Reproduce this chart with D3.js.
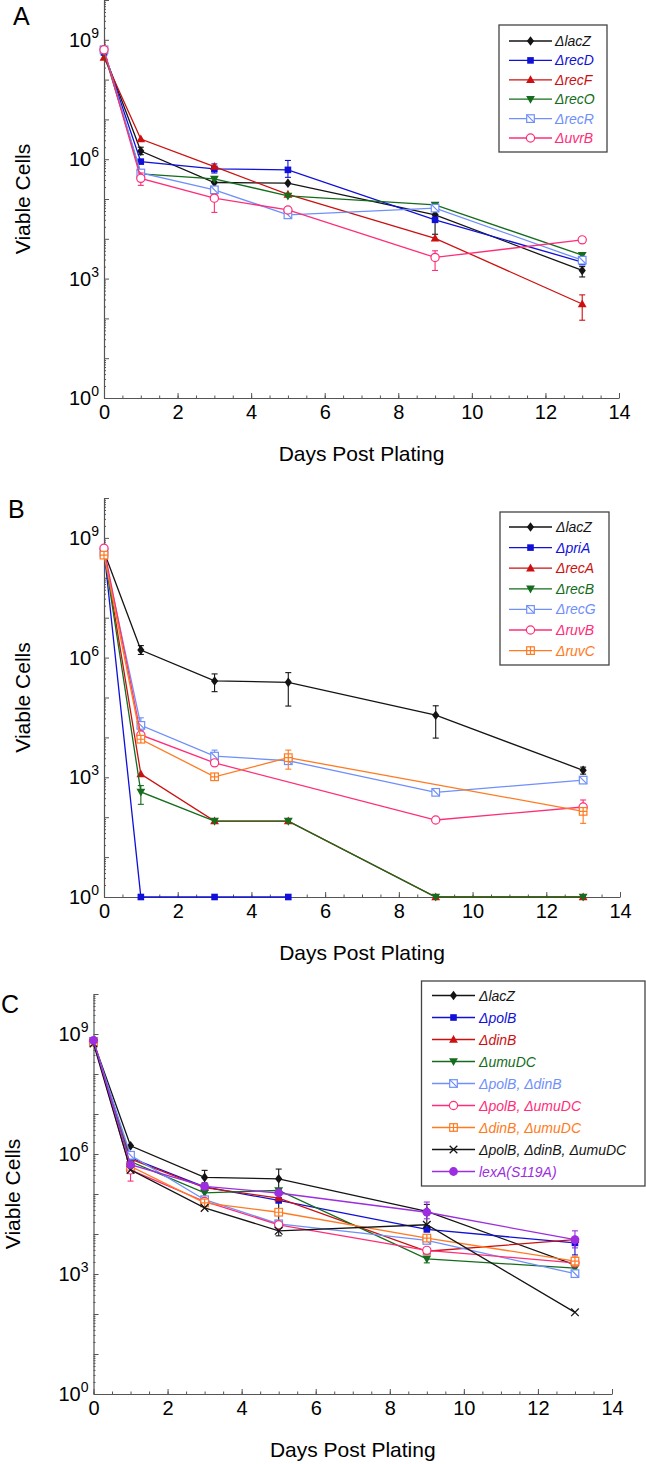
<!DOCTYPE html>
<html><head><meta charset="utf-8">
<script src="https://cdn.jsdelivr.net/npm/d3@7"></script>
<style>
body{margin:0;background:#fff}
svg{display:block}
text{font-family:"Liberation Sans",Arial,Helvetica,sans-serif}
</style>
</head><body>
<svg id="chart" width="646" height="1464"></svg>
<script>
// ---------------- DATA ----------------
const days = [0, 1, 3, 5, 9, 13];
const xTickValues = [0, 2, 4, 6, 8, 10, 12, 14];
const yLabelExponents = [0, 3, 6, 9];

// Panel A
const strainsA = ["ΔlacZ", "ΔrecD", "ΔrecF", "ΔrecO", "ΔrecR", "ΔuvrB"];
const viableA = [
  [4.5e8, 1.6e6, 2.6e5, 2.5e5, 4.0e4, 1.6e3],
  [4.8e8, 8.7e5, 5.7e5, 5.4e5, 3.0e4, 2.6e3],
  [3.6e8, 3.2e6, 6.5e5, 1.3e5, 1.03e4, 2.3e2],
  [4.8e8, 4.3e5, 3.2e5, 1.2e5, 7.1e4, 3.9e3],
  [5.6e8, 4.5e5, 1.7e5, 4.0e4, 5.9e4, 2.9e3],
  [5.6e8, 3.3e5, 1.05e5, 5.3e4, 3.4e3, 9.4e3]
];
const lowA = [
  [null, 1.3e6, null, null, 1.3e4, 1.1e3],
  [null, null, 4.5e5, 3.5e5, null, null],
  [null, null, null, null, null, 9.0e1],
  [null, null, null, null, null, null],
  [null, null, null, null, null, null],
  [null, 2.2e5, 4.6e4, null, 1.6e3, null]
];
const highA = [
  [null, 2.0e6, null, null, 5.3e4, 2.0e3],
  [null, null, 7.6e5, 9.3e5, null, null],
  [null, null, null, null, null, 3.9e2],
  [null, null, null, null, null, null],
  [null, null, null, null, null, null],
  [null, 4.5e5, 1.3e5, null, 5.0e3, null]
];

// Panel B
const strainsB = ["ΔlacZ", "ΔpriA", "ΔrecA", "ΔrecB", "ΔrecG", "ΔruvB", "ΔruvC"];
const viableB = [
  [4.5e8, 1.55e6, 2.6e5, 2.4e5, 3.6e4, 1.5e3],
  [5.0e8, 1, 1, 1, null, null],
  [5.0e8, 1.2e3, 80, 80, 1, 1],
  [4.5e8, 4.3e2, 80, 80, 1, 1],
  [4.2e8, 2.0e4, 3.4e3, 2.6e3, 4.2e2, 8.5e2],
  [5.5e8, 1.15e4, 2.3e3, null, 85, 1.8e2],
  [3.7e8, 9.0e3, 1.03e3, 3.1e3, null, 1.4e2]
];
const lowB = [
  [null, 1.2e6, 1.4e5, 6.1e4, 9.6e3, 1.2e3],
  [null, null, null, null, null, null],
  [null, null, null, null, null, null],
  [null, 2.1e2, null, null, null, null],
  [null, 1.5e4, 2.8e3, null, null, null],
  [null, null, null, null, null, null],
  [null, null, null, 1.6e3, null, 70]
];
const highB = [
  [null, 2.0e6, 3.9e5, 4.2e5, 6.2e4, 1.8e3],
  [null, null, null, null, null, null],
  [null, null, null, null, null, null],
  [null, 6.2e2, null, null, null, null],
  [null, 3.1e4, 4.8e3, null, null, null],
  [null, null, null, null, null, 2.7e2],
  [null, null, null, 4.8e3, null, null]
];

// Panel C
const strainsC = ["ΔlacZ", "ΔpolB", "ΔdinB", "ΔumuDC", "ΔpolB, ΔdinB", "ΔpolB, ΔumuDC",
  "ΔdinB, ΔumuDC", "ΔpolB, ΔdinB, ΔumuDC", "lexA(S119A)"];
const viableC = [
  [6.3e8, 1.6e6, 2.6e5, 2.4e5, 3.7e4, 1.7e3],
  [6.5e8, 8.0e5, 1.5e5, 6.9e4, 1.3e4, 6.0e3],
  [6.3e8, 7.5e5, 1.45e5, 7.9e4, 3.7e3, 7.2e3],
  [6.3e8, 6.5e5, 1.07e5, 1.23e5, 2.4e3, 1.4e3],
  [6.5e8, 9.3e5, 7.2e4, 1.8e4, 6.9e3, 1.02e3],
  [6.5e8, 4.0e5, 6.5e4, 1.7e4, 3.9e3, 1.9e3],
  [6.3e8, 4.9e5, 6.0e4, 3.5e4, 7.9e3, 2.1e3],
  [5.8e8, 4.0e5, 4.5e4, 1.2e4, 1.7e4, 1.1e2],
  [6.9e8, 5.4e5, 1.55e5, 1.06e5, 3.5e4, 7.2e3]
];
const lowC = [
  [null, null, 1.9e5, 9.0e3, 1.6e4, null],
  [null, null, null, null, null, 3.0e3],
  [null, null, null, null, null, null],
  [null, null, null, null, 1.9e3, null],
  [null, null, null, null, null, null],
  [null, 2.1e5, null, null, null, null],
  [null, null, null, null, null, 1.6e3],
  [null, null, null, null, null, null],
  [null, null, null, null, 2.4e4, 4.5e3]
];
const highC = [
  [null, null, 3.9e5, 4.2e5, 5.5e4, null],
  [null, null, null, null, null, null],
  [null, null, null, null, null, null],
  [null, null, null, null, null, null],
  [null, null, null, null, null, null],
  [null, null, null, null, null, null],
  [null, null, null, null, null, 2.8e3],
  [null, null, null, null, null, null],
  [null, null, null, null, 6.3e4, 1.2e4]
];

// ---------------- STYLE ----------------
const COL = {
  black: "#141414", blue: "#1010d8", red: "#cc1010", green: "#146c1c",
  lblue: "#6f8ffb", pink: "#ff2d78", orange: "#ff7a21", purple: "#9c2de0"
};
const panels = [
  { letter: "A", lx: 13, ly: 25, x0: 104, x1: 619, yTop: 0, yBot: 398, titleX: 30,
    strains: strainsA, vals: viableA, lo: lowA, hi: highA,
    colors: [COL.black, COL.blue, COL.red, COL.green, COL.lblue, COL.pink],
    markers: ["diamond", "square", "tri", "triDown", "boxSlash", "circle"],
    legend: { x: 499, y: 25, w: 108, h: 127, row0: 41, dy: 19.4, l0: 509, l1: 552, tx: 555 } },
  { letter: "B", lx: 8, ly: 518, x0: 104, x1: 620, yTop: 498, yBot: 897, titleX: 30,
    strains: strainsB, vals: viableB, lo: lowB, hi: highB,
    colors: [COL.black, COL.blue, COL.red, COL.green, COL.lblue, COL.pink, COL.orange],
    markers: ["diamond", "square", "tri", "triDown", "boxSlash", "circle", "boxPlus"],
    legend: { x: 500, y: 512, w: 109, h: 153, row0: 527, dy: 20.6, l0: 509, l1: 552, tx: 556 } },
  { letter: "C", lx: 1, ly: 1013, x0: 93.5, x1: 612, yTop: 994, yBot: 1394, titleX: 20,
    strains: strainsC, vals: viableC, lo: lowC, hi: highC,
    colors: [COL.black, COL.blue, COL.red, COL.green, COL.lblue, COL.pink, COL.orange, COL.black, COL.purple],
    markers: ["diamond", "square", "tri", "triDown", "boxSlash", "circle", "boxPlus", "x", "dot"],
    legend: { x: 421.5, y: 981, w: 223.5, h: 205, row0: 995.5, dy: 22, l0: 432, l1: 475, tx: 479 } }
];

const svg = d3.select("#chart");
const AX = "#555";

function marker(g, type, color, x, y) {
  const t = `translate(${x},${y})`;
  const sw = 1.2;
  switch (type) {
    case "diamond":
      g.append("path").attr("d", "M0,-4.8L3.6,0L0,4.8L-3.6,0Z").attr("transform", t).attr("fill", color); break;
    case "square":
      g.append("rect").attr("x", x - 3.3).attr("y", y - 3.3).attr("width", 6.6).attr("height", 6.6).attr("fill", color); break;
    case "tri":
      g.append("path").attr("d", "M0,-4.6L4.4,3.2L-4.4,3.2Z").attr("transform", t).attr("fill", color); break;
    case "triDown":
      g.append("path").attr("d", "M0,4.6L4.4,-3.2L-4.4,-3.2Z").attr("transform", t).attr("fill", color); break;
    case "circle":
      g.append("circle").attr("cx", x).attr("cy", y).attr("r", 4.1).attr("fill", "#fff").attr("stroke", color).attr("stroke-width", sw); break;
    case "dot":
      g.append("circle").attr("cx", x).attr("cy", y).attr("r", 4.4).attr("fill", color); break;
    case "boxSlash":
      g.append("rect").attr("x", x - 3.8).attr("y", y - 3.8).attr("width", 7.6).attr("height", 7.6).attr("fill", "#fff").attr("stroke", color).attr("stroke-width", sw);
      g.append("path").attr("d", "M-3.8,-3.8L3.8,3.8").attr("transform", t).attr("stroke", color).attr("stroke-width", sw); break;
    case "boxPlus":
      g.append("rect").attr("x", x - 3.8).attr("y", y - 3.8).attr("width", 7.6).attr("height", 7.6).attr("fill", "#fff").attr("stroke", color).attr("stroke-width", sw);
      g.append("path").attr("d", "M-3.8,0L3.8,0M0,-3.8L0,3.8").attr("transform", t).attr("stroke", color).attr("stroke-width", sw); break;
    case "x":
      g.append("path").attr("d", "M-3.8,-3.8L3.8,3.8M-3.8,3.8L3.8,-3.8").attr("transform", t).attr("stroke", color).attr("stroke-width", 1.3); break;
  }
}

panels.forEach(p => {
  const x = d3.scaleLinear().domain([0, 14]).range([p.x0, p.x1]);
  const y = d3.scaleLog().domain([1, 1e10]).range([p.yBot, p.yTop]);
  const g = svg.append("g");

  // panel letter
  g.append("text").attr("x", p.lx).attr("y", p.ly).attr("font-size", 25).attr("fill", "#000").text(p.letter);

  // x axis
  const xMinor = d3.range(0, 14.01, 0.5);
  const xa = g.append("g").attr("transform", `translate(0,${p.yBot})`);
  xa.call(d3.axisBottom(x).tickValues(xMinor).tickSizeInner(-2.5).tickSizeOuter(0).tickFormat(""));
  xa.call(g2 => g2.selectAll("path.domain").remove());
  const xb = g.append("g").attr("transform", `translate(0,${p.yBot})`);
  xb.call(d3.axisBottom(x).tickValues(xTickValues).tickSizeInner(-5).tickSizeOuter(0).tickPadding(21).tickFormat(d3.format("d")));
  xb.selectAll("text").attr("font-size", 20).attr("fill", "#000").attr("dy", 0).attr("font-family", '"Liberation Sans", Arial, sans-serif');
  [xa, xb].forEach(s => { s.selectAll("line").attr("stroke", AX); s.selectAll("path").attr("stroke", AX).attr("stroke-width", 1.2); });

  // y axis
  const yMinor = [];
  for (let e = 0; e < 10; e++) for (let m = 2; m <= 9; m++) yMinor.push(m * Math.pow(10, e));
  const yMajor = d3.range(0, 11).map(e => Math.pow(10, e));
  const ya = g.append("g").attr("transform", `translate(${p.x0},0)`);
  ya.call(d3.axisLeft(y).tickValues(yMinor).tickSizeInner(-2).tickSizeOuter(0).tickFormat(""));
  ya.call(g2 => g2.selectAll("path.domain").remove());
  const yb = g.append("g").attr("transform", `translate(${p.x0},0)`);
  yb.call(d3.axisLeft(y).tickValues(yMajor).tickSizeInner(-5).tickSizeOuter(0).tickFormat(""));
  [ya, yb].forEach(s => { s.selectAll("line").attr("stroke", AX); s.selectAll("path").attr("stroke", AX).attr("stroke-width", 1.2); });

  // y labels 10^n
  yLabelExponents.forEach(e => {
    const ty = y(Math.pow(10, e));
    const t = g.append("text").attr("x", p.x0 - 5).attr("y", ty + 7).attr("text-anchor", "end").attr("fill", "#000").attr("font-size", 20);
    t.append("tspan").text("10");
    t.append("tspan").attr("font-size", 14).attr("dy", -9).text(String(e));
  });

  // axis titles
  g.append("text").attr("x", (p.x0 + p.x1) / 2).attr("y", p.yBot + 63).attr("text-anchor", "middle")
    .attr("font-size", 21).attr("fill", "#000").text("Days Post Plating");
  g.append("text").attr("transform", `translate(${p.titleX},${(p.yTop + p.yBot) / 2}) rotate(-90)`)
    .attr("text-anchor", "middle").attr("font-size", 21).attr("fill", "#000").text("Viable Cells");

  // series
  const line = d3.line().x(d => x(d.day)).y(d => y(d.v));
  p.vals.forEach((vals, i) => {
    const color = p.colors[i];
    const pts = days.map((d, k) => ({ day: d, v: vals[k], lo: p.lo[i][k], hi: p.hi[i][k] })).filter(d => d.v != null);
    const sg = g.append("g");
    sg.append("path").datum(pts).attr("d", line).attr("fill", "none").attr("stroke", color).attr("stroke-width", 1.3);
    pts.forEach(d => {
      const lo = d.lo != null ? d.lo : d.v, hi = d.hi != null ? d.hi : d.v;
      if (d.lo != null || d.hi != null) {
        const cx = x(d.day);
        sg.append("line").attr("x1", cx).attr("x2", cx).attr("y1", y(lo)).attr("y2", y(hi)).attr("stroke", color).attr("stroke-width", 1.1);
        if (d.lo != null) sg.append("line").attr("x1", cx - 3).attr("x2", cx + 3).attr("y1", y(lo)).attr("y2", y(lo)).attr("stroke", color).attr("stroke-width", 1.1);
        if (d.hi != null) sg.append("line").attr("x1", cx - 3).attr("x2", cx + 3).attr("y1", y(hi)).attr("y2", y(hi)).attr("stroke", color).attr("stroke-width", 1.1);
      }
    });
    pts.forEach(d => marker(sg, p.markers[i], color, x(d.day), y(d.v)));
  });

  // legend
  const L = p.legend;
  const lg = g.append("g");
  lg.append("rect").attr("x", L.x).attr("y", L.y).attr("width", L.w).attr("height", L.h)
    .attr("fill", "#fff").attr("stroke", "#444").attr("stroke-width", 1.3);
  p.strains.forEach((s, i) => {
    const ry = L.row0 + i * L.dy;
    const color = p.colors[i];
    lg.append("line").attr("x1", L.l0).attr("x2", L.l1).attr("y1", ry).attr("y2", ry).attr("stroke", color).attr("stroke-width", 1.3);
    marker(lg, p.markers[i], color, (L.l0 + L.l1) / 2, ry);
    lg.append("text").attr("x", L.tx).attr("y", ry + 5).attr("font-size", 14).attr("font-style", "italic")
      .attr("fill", color).text(s);
  });
});
</script>
</body></html>
